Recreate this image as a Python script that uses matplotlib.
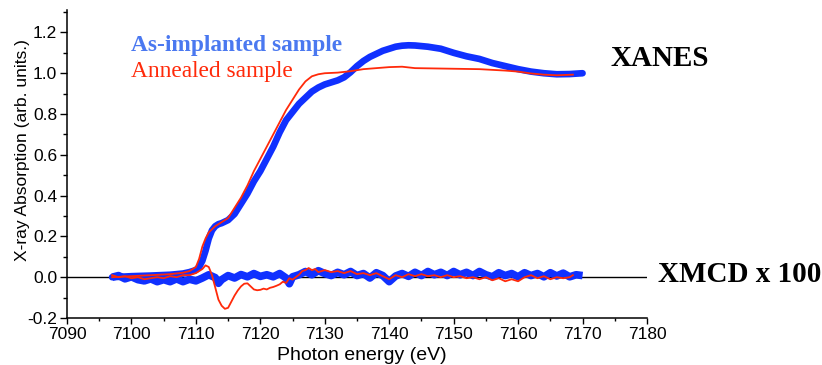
import matplotlib
matplotlib.use('Agg')
import matplotlib.pyplot as plt
from matplotlib.ticker import MultipleLocator

# XANES, as-implanted sample (photon energy in eV, absorption)
xanes_as_e = [7097, 7100, 7103, 7106, 7108, 7109, 7110, 7110.5, 7111, 7111.5, 7112, 7112.5,
              7113, 7113.5, 7114, 7115, 7116, 7117, 7118, 7119, 7120, 7121, 7122, 7123,
              7124, 7125, 7126, 7127, 7128, 7129, 7130, 7131, 7132, 7133, 7134, 7135,
              7136, 7137, 7138, 7139, 7140, 7141, 7142, 7143, 7144, 7145, 7146, 7148,
              7150, 7152, 7154, 7156, 7158, 7160, 7162, 7164, 7166, 7168, 7170]
xanes_as_v = [0.0, 0.005, 0.008, 0.012, 0.018, 0.025, 0.035, 0.05, 0.08, 0.13, 0.19, 0.23,
              0.25, 0.26, 0.265, 0.28, 0.31, 0.36, 0.41, 0.47, 0.52, 0.58, 0.64, 0.71,
              0.77, 0.81, 0.85, 0.88, 0.91, 0.93, 0.945, 0.955, 0.965, 0.98, 1.005, 1.035,
              1.06, 1.08, 1.095, 1.11, 1.12, 1.13, 1.135, 1.137, 1.136, 1.133, 1.13, 1.12,
              1.10, 1.083, 1.07, 1.05, 1.035, 1.02, 1.008, 1.0, 0.995, 0.996, 1.0]

# XANES, annealed sample
xanes_an_e = [7097, 7100, 7103, 7106, 7108, 7109, 7110, 7110.5, 7111, 7111.5, 7112, 7113,
              7114, 7115, 7116, 7117, 7118, 7119, 7120, 7121, 7122, 7123, 7124, 7125,
              7126, 7127, 7128, 7129, 7130, 7132, 7134, 7136, 7138, 7140, 7142, 7144,
              7146, 7150, 7154, 7158, 7160, 7162, 7164, 7166, 7168.5]
xanes_an_v = [0.0, 0.005, 0.01, 0.015, 0.022, 0.03, 0.05, 0.09, 0.15, 0.19, 0.22, 0.25,
              0.27, 0.29, 0.34, 0.39, 0.45, 0.52, 0.58, 0.64, 0.70, 0.76, 0.82, 0.87,
              0.92, 0.96, 0.985, 0.995, 1.0, 1.003, 1.01, 1.02, 1.025, 1.03, 1.032, 1.025,
              1.024, 1.022, 1.02, 1.013, 1.008, 0.999, 0.993, 0.99, 0.993]

# XMCD x 100, as-implanted sample
xmcd_as_e = [7097, 7098, 7099, 7100, 7101, 7102, 7103, 7104, 7105, 7106, 7107, 7108, 7109,
             7110, 7111, 7112, 7113, 7113.5, 7114, 7115, 7116, 7117, 7118, 7119, 7120,
             7121, 7122, 7123, 7124, 7124.5, 7125, 7126, 7127, 7128, 7129, 7130, 7131,
             7132, 7133, 7134, 7135, 7136, 7137, 7138, 7139, 7140, 7141, 7142, 7143,
             7144, 7145, 7146, 7147, 7148, 7149, 7150, 7151, 7152, 7153, 7154, 7155,
             7156, 7157, 7158, 7159, 7160, 7161, 7162, 7163, 7164, 7165, 7166, 7167,
             7168, 7169, 7170]
xmcd_as_v = [0.0, 0.008, -0.008, 0.002, -0.012, -0.018, -0.008, -0.022, -0.012, -0.022,
             -0.008, -0.022, -0.01, -0.018, -0.004, 0.012, -0.002, -0.03, -0.012, 0.008,
             -0.004, 0.013, 0.002, 0.018, 0.004, 0.012, 0.002, 0.018, -0.004, -0.032,
             0.002, 0.012, 0.028, 0.012, 0.032, 0.018, 0.008, 0.024, 0.012, 0.028, 0.008,
             0.018, -0.004, 0.022, 0.008, -0.022, 0.006, 0.018, 0.004, 0.024, 0.008,
             0.028, 0.012, 0.024, 0.008, 0.028, 0.012, 0.024, 0.008, 0.028, 0.012, 0.002,
             0.022, 0.008, 0.018, 0.002, 0.022, 0.008, 0.018, 0.002, 0.022, 0.006, 0.02,
             0.002, 0.012, 0.008]

# XMCD x 100, annealed sample
xmcd_an_e = [7097, 7098, 7099, 7100, 7101, 7102, 7103, 7104, 7105, 7106, 7107, 7108, 7109,
             7110, 7111, 7111.5, 7112, 7112.5, 7113, 7113.5, 7114, 7114.5, 7115, 7115.5,
             7116, 7116.5, 7117, 7117.5, 7118, 7118.5, 7119, 7119.5, 7120, 7120.5, 7121,
             7121.5, 7122, 7122.5, 7123, 7123.5, 7124, 7124.5, 7125, 7125.5, 7126,
             7126.5, 7127, 7127.5, 7128, 7128.5, 7129, 7130, 7131, 7132, 7133, 7134,
             7135, 7136, 7137, 7138, 7139, 7140, 7141, 7142, 7143, 7144, 7145, 7146,
             7147, 7148, 7149, 7150, 7151, 7152, 7153, 7154, 7155, 7156, 7157, 7158,
             7159, 7160, 7161, 7162, 7163, 7164, 7165, 7166, 7167, 7168, 7168.5]
xmcd_an_v = [0.01, 0.0, 0.005, -0.005, 0.0, -0.01, -0.005, 0.0, -0.005, 0.005, 0.0, 0.01,
             0.01, 0.02, 0.04, 0.058, 0.05, 0.01, -0.05, -0.11, -0.14, -0.155, -0.15,
             -0.12, -0.09, -0.065, -0.045, -0.032, -0.03, -0.045, -0.06, -0.064, -0.062,
             -0.056, -0.06, -0.052, -0.048, -0.042, -0.035, -0.022, -0.028, -0.005,
             -0.012, 0.0, 0.012, 0.03, 0.035, 0.045, 0.035, 0.04, 0.025, 0.035, 0.025,
             0.03, 0.02, 0.03, 0.015, 0.02, 0.01, 0.02, 0.005, -0.01, 0.01, 0.0, 0.015,
             0.005, 0.015, 0.005, 0.01, 0.0, 0.01, 0.0, 0.005, -0.005, 0.0, -0.01, 0.0,
             -0.015, -0.005, -0.02, -0.01, -0.02, 0.0, 0.01, -0.005, 0.005, -0.01, 0.0,
             -0.005, 0.0, 0.01]

x_ticks = [7090, 7100, 7110, 7120, 7130, 7140, 7150, 7160, 7170, 7180]
y_ticks = [-0.2, 0.0, 0.2, 0.4, 0.6, 0.8, 1.0, 1.2]

blue = '#1030ff'
red = '#ff2a0a'
sans = 'Liberation Sans'
serif = 'Liberation Serif'

fig = plt.figure(figsize=(8.22, 3.65), dpi=100)
ax = fig.add_axes([67 / 822, 1 - 318 / 365, 580 / 822, 308 / 365])

ax.axhline(0, color='black', lw=1.0, zorder=1)

# XMCD traces (drawn as a rough band for the thick blue one)
ax.plot(xmcd_as_e, xmcd_as_v, color=blue, lw=5.5, solid_joinstyle='round',
        solid_capstyle='butt', zorder=2)
ax.plot(xmcd_an_e, xmcd_an_v, color=red, lw=1.3, zorder=3)
# XANES traces
ax.plot(xanes_as_e, xanes_as_v, color=blue, lw=4.8, solid_capstyle='round', zorder=2)
ax.plot(xanes_an_e, xanes_an_v, color=red, lw=1.3, zorder=3)

ax.set_xlim(7090, 7180)
ax.set_ylim(-0.2, 1.31)
ax.set_xticks(x_ticks)
ax.set_yticks(y_ticks)
ax.set_yticklabels([f"{t:.1f}" for t in y_ticks])
ax.xaxis.set_minor_locator(MultipleLocator(5))
ax.yaxis.set_minor_locator(MultipleLocator(0.1))

for side in ['top', 'right']:
    ax.spines[side].set_visible(False)
for side in ['left', 'bottom']:
    ax.spines[side].set_linewidth(1.1)

ax.tick_params(axis='both', which='major', direction='out', width=1.0, labelsize=12.5)
ax.tick_params(axis='x', which='major', length=4.3, pad=2)
ax.tick_params(axis='x', which='minor', direction='out', length=2.5, width=1.0)
ax.tick_params(axis='y', which='major', length=5.0, pad=2)
ax.tick_params(axis='y', which='minor', direction='out', length=3.0, width=1.0)
for lbl in ax.get_xticklabels() + ax.get_yticklabels():
    lbl.set_fontfamily(sans)

fig.text(362 / 822, 1 - 355 / 365, "Photon energy (eV)", ha='center', va='center',
         fontsize=14, family=sans)
fig.text(23 / 822, 1 - 150 / 365, "X-ray Absorption (arb. units.)", ha='center', va='center',
         rotation=90, fontsize=12.5, family=sans)

fig.text(131 / 822, 1 - 46 / 365, "As-implanted sample", ha='left', va='center',
         fontsize=16.8, fontweight='bold', color='#4a78f0', family=serif)
fig.text(131 / 822, 1 - 72 / 365, "Annealed sample", ha='left', va='center',
         fontsize=16.8, color=red, family=serif)

fig.text(610 / 822, 1 - 58 / 365, "XANES", ha='left', va='center',
         fontsize=21, fontweight='bold', family=serif)
fig.text(658 / 822, 1 - 275 / 365, "XMCD x 100", ha='left', va='center',
         fontsize=21, fontweight='bold', family=serif)

plt.savefig('out.png', dpi=100)
plt.close()
